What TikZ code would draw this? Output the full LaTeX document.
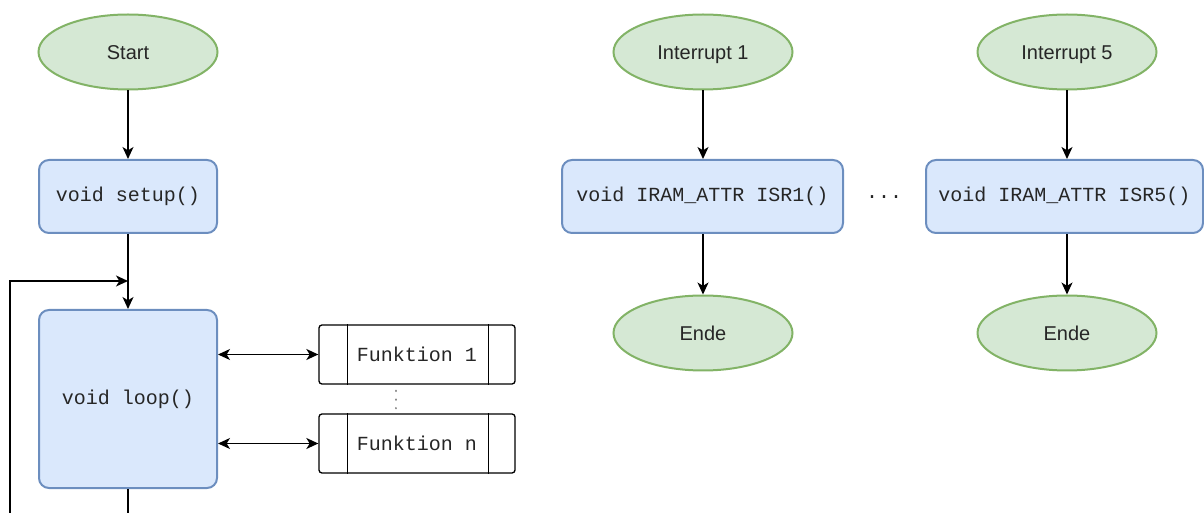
\documentclass[tikz,border=0pt]{standalone}
\usepackage{fontspec}
\setmainfont{Liberation Sans}
\setmonofont{Liberation Mono}
\usetikzlibrary{shapes.geometric,arrows.meta,calc}

% one drawing unit = 0.75pt
\newdimen\pxu
\pxu=0.75pt

\definecolor{termfill}{HTML}{D5E8D4}
\definecolor{termline}{HTML}{82B366}
\definecolor{codefill}{HTML}{DAE8FC}
\definecolor{codeline}{HTML}{6C8EBF}
\definecolor{txt}{HTML}{262626}
\definecolor{dotgray}{HTML}{8A8A8A}

\tikzset{
  basefont/.style={font=\fontsize{15}{18}\selectfont},
  monofont/.style={font=\ttfamily\fontsize{15}{18}\selectfont},
  term/.style={ellipse, draw=termline, fill=termfill, line width=1.5pt,
    minimum width=179\pxu, minimum height=75\pxu, inner sep=0pt,
    text height=1.2em, text depth=0.1em, text=txt, basefont},
  codebox/.style={rectangle, rounded corners=10\pxu, draw=codeline,
    fill=codefill, line width=1.5pt, inner sep=0pt, text=txt, monofont},
  subbox/.style={rectangle, rounded corners=3\pxu, draw=black,
    line width=1pt, fill=white, minimum width=196\pxu,
    minimum height=59\pxu, inner sep=0pt, text=txt, monofont},
  tip/.tip={Stealth[length=9pt, width=8.25pt, inset=2.5pt]},
  flow/.style={draw=black, line width=1pt, -tip},
  both/.style={draw=black, line width=1pt, tip-tip},
  vdotline/.style={draw=dotgray, line width=1.5pt, line cap=round,
    dash pattern=on 0.4pt off 6.1pt},
  subbar/.style={draw=black, line width=1pt}
}

\begin{document}
\begin{tikzpicture}[x=0.75pt, y=-0.75pt]
  \useasboundingbox (0,0) rectangle (1204,513);
  \clip (0,0) rectangle (1204,513);

  % main program
  \node[term] (start) at (128,52) {Start};
  \node[codebox, minimum width=178\pxu, minimum height=73\pxu] (setup) at (128,196.5) {void setup()};
  \node[codebox, minimum width=178\pxu, minimum height=178\pxu] (loop) at (128,399) {void loop()};

  % called functions
  \node[subbox] (f1) at (417,354.5) {Funktion 1};
  \node[subbox] (fn) at (417,443.5) {Funktion n};
  \foreach \f in {f1,fn} {
    \draw[subbar] ([xshift=21.75pt]\f.north west) -- ([xshift=21.75pt]\f.south west);
    \draw[subbar] ([xshift=-20.25pt]\f.north east) -- ([xshift=-20.25pt]\f.south east);
  }
  \draw[vdotline] ($(f1.south)+(-21,6)$) -- ($(fn.north)+(-21,-5)$);

  % interrupt service routines
  \node[term] (int1) at (703,52) {Interrupt 1};
  \node[codebox, minimum width=281\pxu, minimum height=73\pxu] (isr1) at (702.5,196.5) {void IRAM\_ATTR ISR1()};
  \node[term] (ende1) at (703,333) {Ende};

  \node[text=txt, monofont] (more) at (884,197) {...};

  \node[term] (int5) at (1067,52) {Interrupt 5};
  \node[codebox, minimum width=277\pxu, minimum height=73\pxu] (isr5) at (1064.5,196.5) {void IRAM\_ATTR ISR5()};
  \node[term] (ende5) at (1067,333) {Ende};

  % loop-back path
  \coordinate (lbA) at (128,540);
  \coordinate (lbB) at (10,540);
  \coordinate (lbC) at (10,281);
  \coordinate (lbD) at (128,281);

  % connectors
  \draw[flow] (start) -- (setup);
  \draw[flow] (setup) -- (loop);
  \draw[flow] (loop.south) -- (lbA) -- (lbB) -- (lbC) -- (lbD);
  \draw[both] (loop.east |- f1.west) -- (f1.west);
  \draw[both] (loop.east |- fn.west) -- (fn.west);

  \draw[flow] (int1) -- (isr1.north -| int1.south);
  \draw[flow] (isr1.south -| int1.south) -- (ende1);
  \draw[flow] (int5) -- (isr5.north -| int5.south);
  \draw[flow] (isr5.south -| int5.south) -- (ende5);
\end{tikzpicture}
\end{document}
